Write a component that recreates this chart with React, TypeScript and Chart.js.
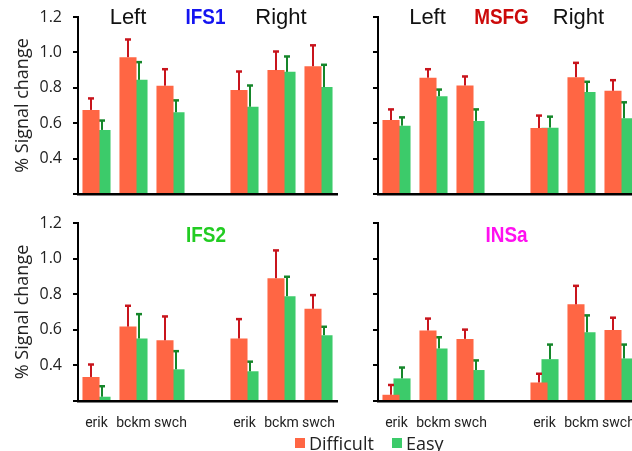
import React, { useEffect, useRef } from "react";
import { Chart, registerables } from "chart.js";
Chart.register(...registerables);

// ---------- DATA ----------
const categories = ["erik", "bckm", "swch", "", "erik", "bckm", "swch"];
const seriesNames = ["Difficult", "Easy"];
const yMin = 0.2;
const yMax = 1.2;
const yStep = 0.2;

// IFS1
const ifs1Difficult = [0.675, 0.973, 0.812, null, 0.787, 0.9, 0.922];
const ifs1DifficultErr = [0.065, 0.1, 0.093, null, 0.105, 0.105, 0.118];
const ifs1Easy = [0.562, 0.845, 0.662, null, 0.693, 0.89, 0.804];
const ifs1EasyErr = [0.053, 0.1, 0.067, null, 0.12, 0.087, 0.126];

// MSFG
const msfgDifficult = [0.618, 0.857, 0.813, null, 0.573, 0.86, 0.783];
const msfgDifficultErr = [0.06, 0.048, 0.051, null, 0.07, 0.081, 0.06];
const msfgEasy = [0.586, 0.752, 0.613, null, 0.575, 0.776, 0.628];
const msfgEasyErr = [0.047, 0.038, 0.065, null, 0.062, 0.058, 0.09];

// IFS2
const ifs2Difficult = [0.335, 0.618, 0.541, null, 0.551, 0.89, 0.718];
const ifs2DifficultErr = [0.07, 0.117, 0.134, null, 0.109, 0.156, 0.077];
const ifs2Easy = [0.224, 0.551, 0.378, null, 0.367, 0.789, 0.57];
const ifs2EasyErr = [0.059, 0.137, 0.102, null, 0.054, 0.109, 0.047];

// INSa
const insaDifficult = [0.235, 0.596, 0.549, null, 0.304, 0.743, 0.599];
const insaDifficultErr = [0.055, 0.067, 0.052, null, 0.049, 0.104, 0.069];
const insaEasy = [0.327, 0.495, 0.374, null, 0.435, 0.586, 0.439];
const insaEasyErr = [0.061, 0.063, 0.054, null, 0.082, 0.095, 0.078];

// ---------- STYLE ----------
const DIFF_COLOR = "#FF6644";
const EASY_COLOR = "#3CCB6A";
const DIFF_ERR = "#C8141C";
const EASY_ERR = "#15862A";
const TEXT_FONT = '"Open Sans", "Noto Sans", sans-serif';
const TITLE_FONT = '"Liberation Sans", Arial, sans-serif';

type TitleItem = { text: string; x: number; y: number; color: string; bold: boolean };

type PanelDef = {
  left: number;
  top: number;
  width: number;
  height: number;
  padTop: number;
  xAxisH: number;
  showYLabels: boolean;
  showXLabels: boolean;
  titles: TitleItem[];
  difficult: (number | null)[];
  difficultErr: (number | null)[];
  easy: (number | null)[];
  easyErr: (number | null)[];
};

const panels: PanelDef[] = [
  {
    left: 0, top: 0, width: 345, height: 200, padTop: 17, xAxisH: 6,
    showYLabels: true, showXLabels: false,
    titles: [
      { text: "Left", x: 128, y: 18, color: "#111", bold: false },
      { text: "IFS1", x: 205.5, y: 18, color: "#1414F0", bold: true },
      { text: "Right", x: 281, y: 18, color: "#111", bold: false },
    ],
    difficult: ifs1Difficult, difficultErr: ifs1DifficultErr, easy: ifs1Easy, easyErr: ifs1EasyErr,
  },
  {
    left: 300, top: 0, width: 345, height: 200, padTop: 17, xAxisH: 6,
    showYLabels: false, showXLabels: false,
    titles: [
      { text: "Left", x: 127.5, y: 18, color: "#111", bold: false },
      { text: "MSFG", x: 201.5, y: 18, color: "#CC0A0A", bold: true },
      { text: "Right", x: 278.5, y: 18, color: "#111", bold: false },
    ],
    difficult: msfgDifficult, difficultErr: msfgDifficultErr, easy: msfgEasy, easyErr: msfgEasyErr,
  },
  {
    left: 0, top: 205, width: 345, height: 240, padTop: 18, xAxisH: 44,
    showYLabels: true, showXLabels: true,
    titles: [{ text: "IFS2", x: 206, y: 31, color: "#22CC22", bold: true }],
    difficult: ifs2Difficult, difficultErr: ifs2DifficultErr, easy: ifs2Easy, easyErr: ifs2EasyErr,
  },
  {
    left: 300, top: 205, width: 345, height: 240, padTop: 18, xAxisH: 44,
    showYLabels: false, showXLabels: true,
    titles: [{ text: "INSa", x: 206.5, y: 31, color: "#FF10F0", bold: true }],
    difficult: insaDifficult, difficultErr: insaDifficultErr, easy: insaEasy, easyErr: insaEasyErr,
  },
];

const errorBarPlugin = {
  id: "errorBars",
  afterDatasetDraw(chart: any, args: any) {
    const ds = chart.data.datasets[args.index];
    const errs = ds.errors as (number | null)[];
    if (!errs) return;
    const ctx = chart.ctx;
    const yScale = chart.scales.y;
    ctx.save();
    ctx.strokeStyle = ds.errorColor;
    args.meta.data.forEach((bar: any, i: number) => {
      const v = ds.data[i];
      const e = errs[i];
      if (v == null || e == null) return;
      const x = bar.x;
      const y0 = bar.y;
      const y1 = yScale.getPixelForValue(v + e);
      ctx.lineWidth = 2;
      ctx.beginPath();
      ctx.moveTo(x, y0);
      ctx.lineTo(x, y1);
      ctx.stroke();
      ctx.lineWidth = 2.5;
      ctx.beginPath();
      ctx.moveTo(x - 3, y1);
      ctx.lineTo(x + 3, y1);
      ctx.stroke();
    });
    ctx.restore();
  },
};

const panelTitlePlugin = {
  id: "panelTitles",
  afterDraw(chart: any, _args: any, opts: any) {
    const items: TitleItem[] = opts.items || [];
    const ctx = chart.ctx;
    ctx.save();
    ctx.textAlign = "center";
    ctx.textBaseline = "middle";
    items.forEach((t) => {
      ctx.fillStyle = t.color;
      if (t.bold) {
        ctx.font = `bold 22px ${TITLE_FONT}`;
        ctx.save();
        ctx.translate(t.x, t.y);
        ctx.scale(0.86, 1);
        ctx.fillText(t.text, 0, 0);
        ctx.restore();
      } else {
        ctx.font = `22px ${TITLE_FONT}`;
        ctx.fillText(t.text, t.x, t.y);
      }
    });
    ctx.restore();
  },
};

function Panel({ def }: { def: PanelDef }) {
  const ref = useRef<HTMLCanvasElement>(null);
  useEffect(() => {
    if (!ref.current) return;
    const chart = new Chart(ref.current, {
      type: "bar",
      data: {
        labels: categories,
        datasets: [
          {
            label: seriesNames[0],
            data: def.difficult as any,
            backgroundColor: DIFF_COLOR,
            base: yMin,
            categoryPercentage: 0.595,
            barPercentage: 1.55,
            errors: def.difficultErr,
            errorColor: DIFF_ERR,
          } as any,
          {
            label: seriesNames[1],
            data: def.easy as any,
            backgroundColor: EASY_COLOR,
            base: yMin,
            categoryPercentage: 0.595,
            barPercentage: 1.55,
            errors: def.easyErr,
            errorColor: EASY_ERR,
          } as any,
        ],
      },
      options: {
        responsive: false,
        animation: false,
        events: [],
        layout: { padding: { left: 0, right: 8, top: def.padTop, bottom: 0 } },
        plugins: {
          legend: { display: false },
          tooltip: { enabled: false },
          panelTitles: { items: def.titles },
        } as any,
        scales: {
          x: {
            offset: true,
            grid: { display: false, drawTicks: false },
            border: { display: true, color: "#000", width: 2.5 },
            ticks: {
              display: def.showXLabels,
              padding: 14,
              color: "#222",
              font: { family: "Roboto, sans-serif", size: 14 },
              maxRotation: 0,
              autoSkip: false,
            },
            afterFit: (s: any) => {
              s.height = def.xAxisH;
              s.paddingLeft = 0;
              s.paddingRight = 0;
            },
          },
          y: {
            min: yMin,
            max: yMax,
            grid: { display: true, drawOnChartArea: false, drawTicks: true, tickLength: 5, color: "#000", lineWidth: 2 },
            border: { display: true, color: "#000", width: 2 },
            ticks: {
              display: def.showYLabels,
              stepSize: yStep,
              padding: 11,
              color: "#222",
              font: { family: TEXT_FONT, size: 16 },
              callback: (v: any) => (Math.abs(Number(v) - yMin) < 1e-6 ? "" : Number(v).toFixed(1)),
            },
            title: {
              display: def.showYLabels,
              text: "% Signal change",
              color: "#222",
              font: { family: TEXT_FONT, size: 18 },
              padding: { top: 12, bottom: 0 },
            },
            afterFit: (s: any) => {
              s.width = 78;
              s.paddingTop = 0;
              s.paddingBottom = 0;
            },
          },
        },
      },
      plugins: [errorBarPlugin, panelTitlePlugin],
    });
    return () => chart.destroy();
  }, [def]);
  return (
    <canvas
      ref={ref}
      width={def.width}
      height={def.height}
      style={{ position: "absolute", left: def.left, top: def.top, width: def.width, height: def.height }}
    />
  );
}

export default function App() {
  return (
    <div
      style={{
        position: "fixed",
        left: 0,
        top: 0,
        width: 632,
        height: 451,
        overflow: "hidden",
        background: "#fff",
      }}
    >
      {panels.map((p, i) => (
        <Panel key={i} def={p} />
      ))}
      <div
        style={{
          position: "absolute",
          left: 295,
          top: 432,
          display: "flex",
          alignItems: "center",
          fontFamily: TEXT_FONT,
          fontSize: 18,
          lineHeight: "22px",
          color: "#222",
          whiteSpace: "nowrap",
        }}
      >
        <span style={{ display: "inline-block", width: 10, height: 10, background: DIFF_COLOR, marginRight: 4 }} />
        <span>{seriesNames[0]}</span>
        <span style={{ display: "inline-block", width: 10, height: 10, background: EASY_COLOR, marginLeft: 18, marginRight: 4 }} />
        <span>{seriesNames[1]}</span>
      </div>
    </div>
  );
}
